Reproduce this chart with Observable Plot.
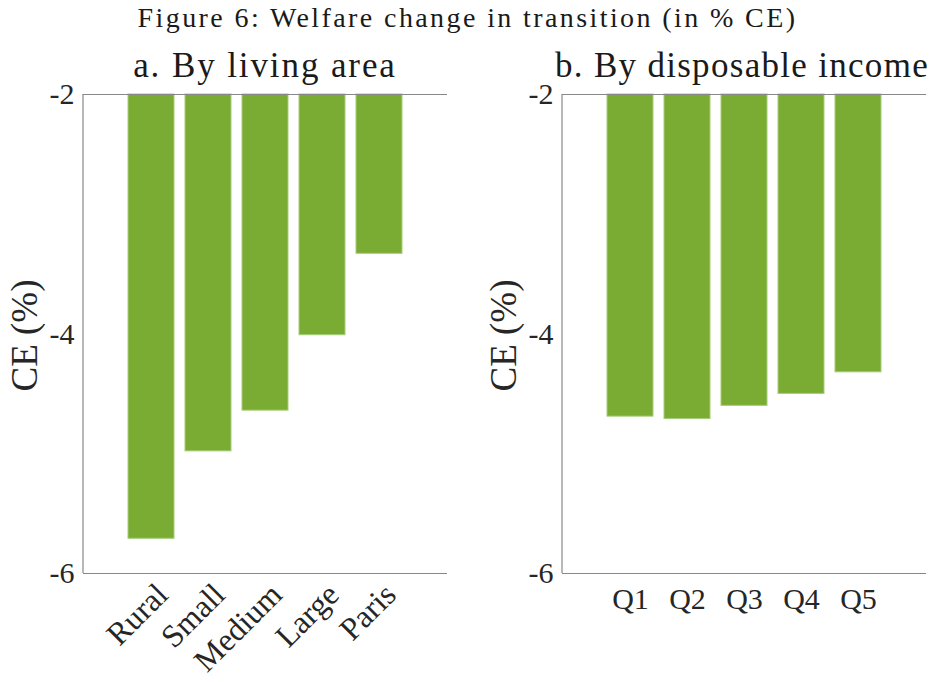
<!DOCTYPE html>
<html><head><meta charset="utf-8">
<script src="https://cdn.jsdelivr.net/npm/d3@7"></script>
<script src="https://cdn.jsdelivr.net/npm/@observablehq/plot@0.6"></script>
<style>
body{margin:0;background:#fff;}
#wrap{position:relative;width:935px;height:682px;font-family:"Liberation Serif",serif;color:#1a1a1a;overflow:hidden}
.abs{position:absolute;white-space:nowrap;line-height:1}
#title{left:0;width:935px;top:4px;text-align:center;font-size:28px;letter-spacing:2.4px}
.sub{font-size:35px;text-align:center;top:48px}
.ylab{font-size:37px;color:#262626;width:200px;text-align:center;top:317px;transform:rotate(-90deg);transform-origin:50% 50%}
</style></head><body>
<div id="wrap">
 <div id="p1" class="abs" style="left:0;top:0"></div>
 <div id="p2" class="abs" style="left:468px;top:0"></div>
 <div id="title" class="abs">Figure 6: Welfare change in transition (in % CE)</div>
 <div class="abs sub" style="left:65px;width:400px;letter-spacing:1.9px">a. By living area</div>
 <div class="abs sub" style="left:542px;width:400px;letter-spacing:1.3px">b. By disposable income</div>
 <div class="abs ylab" id="yl1" style="left:-76px"></div>
 <div class="abs ylab" id="yl2" style="left:403px"></div>
</div>
<script>
const areaCategories = ["Rural", "Small", "Medium", "Large", "Paris"];
const areaValues = [-5.71, -4.98, -4.64, -4.01, -3.33];
const incomeCategories = ["Q1", "Q2", "Q3", "Q4", "Q5"];
const incomeValues = [-4.69, -4.71, -4.60, -4.50, -4.32];
const yDomain = [-6, -2];
const yTicks = [-2, -4, -6];
const yLabel = "CE (%)";

const barFill = "#7aab33";
const barEdge = "#a5cc78";
const axisColor = "#888888";
const textColor = "#262626";

document.getElementById("yl1").textContent = yLabel;
document.getElementById("yl2").textContent = yLabel;

function leftLine(index, scales, values, dims) {
  const g = document.createElementNS("http://www.w3.org/2000/svg", "line");
  g.setAttribute("x1", dims.marginLeft);
  g.setAttribute("x2", dims.marginLeft);
  g.setAttribute("y1", dims.marginTop);
  g.setAttribute("y2", dims.height - dims.marginBottom);
  g.setAttribute("stroke", axisColor);
  g.setAttribute("stroke-width", 1.2);
  return g;
}

function panel(cats, vals, opts) {
  const data = cats.map((c, i) => ({cat: c, value: vals[i]}));
  return Plot.plot({
    width: 467,
    height: 682,
    marginLeft: opts.marginLeft,
    marginRight: opts.marginRight,
    marginTop: 94,
    marginBottom: 109,
    style: {fontFamily: "Liberation Serif, serif", fontSize: "30px", color: textColor, background: "transparent", overflow: "visible"},
    x: {type: "band", domain: cats, paddingInner: 0.2, paddingOuter: 0.79, align: 0.5},
    y: {domain: yDomain},
    marks: [
      Plot.barY(data, {x: "cat", y1: yDomain[1], y2: "value", fill: barFill, stroke: barEdge, strokeWidth: 1, inset: 0}),
      Plot.ruleY(yTicks.filter(t => t === yDomain[0] || t === yDomain[1]), {stroke: axisColor, strokeWidth: 1.2}),
      leftLine,
      Plot.axisY({ticks: yTicks, tickSize: 0, tickPadding: 9, tickFormat: d => String(d), fontSize: 30, label: null}),
      opts.rotate
        ? Plot.axisX({tickSize: 0, tickRotate: -45, tickPadding: 16, dx: 11, fontSize: 32, label: null})
        : Plot.axisX({tickSize: 0, tickPadding: 14, fontSize: 30, label: null})
    ]
  });
}

document.getElementById("p1").appendChild(panel(areaCategories, areaValues, {marginLeft: 83, marginRight: 20, rotate: true}));
document.getElementById("p2").appendChild(panel(incomeCategories, incomeValues, {marginLeft: 94, marginRight: 9, rotate: false}));
</script>
</body></html>
